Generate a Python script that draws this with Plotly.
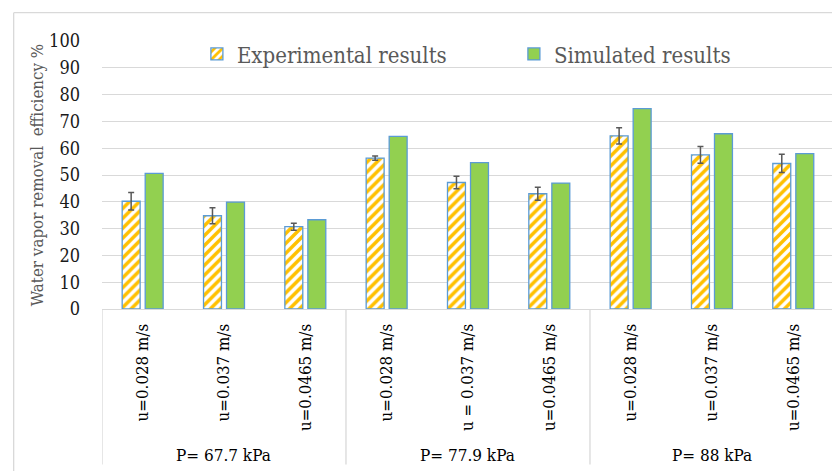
import plotly.graph_objects as go

# Operating pressures (outer grouping) and air velocities (one bar pair each)
pressures = ["P= 67.7 kPa", "P= 77.9 kPa", "P= 88 kPa"]
velocities = ["u=0.028 m/s", "u=0.037 m/s", "u=0.0465 m/s",
              "u=0.028 m/s", "u = 0.037 m/s", "u=0.0465 m/s",
              "u=0.028 m/s", "u=0.037 m/s", "u=0.0465 m/s"]
per_group = 3

# Water vapor removal efficiency, %
experimental = [40.2, 34.8, 30.7, 56.3, 47.2, 43.0, 64.6, 57.5, 54.3]
experimental_err = [3.3, 3.0, 1.3, 0.8, 2.3, 2.4, 3.0, 3.1, 3.4]
simulated = [50.6, 39.9, 33.3, 64.4, 54.6, 47.0, 74.8, 65.4, 58.0]

y_ticks = list(range(0, 101, 10))

SERIF = "DejaVu Serif Condensed"
GRID = "#D9D9D9"
EDGE = "#5B9BD5"

pos = list(range(len(velocities)))

fig = go.Figure()
fig.add_trace(go.Bar(
    name="Experimental results",
    x=pos,
    y=experimental,
    error_y=dict(type="data", array=experimental_err, color="#595959",
                 thickness=1.5, width=3),
    marker=dict(
        color="white",
        pattern=dict(shape="/", fgcolor="#FFC000", bgcolor="white",
                     fgopacity=1, size=7, solidity=0.5),
        line=dict(color=EDGE, width=1.3),
    ),
))
fig.add_trace(go.Bar(
    name="Simulated results",
    x=pos,
    y=simulated,
    marker=dict(color="#92D050", line=dict(color=EDGE, width=1.3)),
))

# Pressure group labels and the dividers of the category table
for g, label in enumerate(pressures):
    first = g * per_group
    centre = first + (per_group - 1) / 2
    fig.add_annotation(x=centre, xref="x", y=-0.545, yref="paper",
                       text=label, showarrow=False, yanchor="middle",
                       font=dict(family=SERIF, size=17, color="#000000"))
for g in range(len(pressures) + 1):
    edge = g * per_group - 0.5
    fig.add_shape(type="line", xref="x", yref="paper",
                  x0=edge, x1=edge, y0=0, y1=-0.58,
                  line=dict(color=GRID, width=1.3))

# Light frame around the chart area (top and left edges)
frame = dict(type="line", xref="paper", yref="paper",
             line=dict(color=GRID, width=1.3), layer="below")
fig.add_shape(x0=-0.121, x1=1.0, y0=1.1056, y1=1.1056, **frame)
fig.add_shape(x0=-0.121, x1=-0.121, y0=1.1056, y1=-0.62, **frame)

fig.update_layout(
    width=832,
    height=471,
    margin=dict(l=102, r=0, t=41, b=162, autoexpand=False),
    paper_bgcolor="white",
    plot_bgcolor="white",
    barmode="group",
    bargap=0.434,
    bargroupgap=0.22,
    font=dict(family=SERIF, color="#000000"),
    showlegend=True,
    legend=dict(
        orientation="h",
        x=0.13, xanchor="left",
        y=0.951, yanchor="middle",
        bgcolor="rgba(0,0,0,0)",
        font=dict(family=SERIF, size=22, color="#595959"),
        entrywidth=272,
        traceorder="normal",
    ),
    xaxis=dict(
        range=[-0.5, 8.476],
        tickvals=pos,
        ticktext=velocities,
        tickangle=-90,
        tickfont=dict(family=SERIF, size=16.8, color="#000000"),
        showline=True, linecolor=GRID, linewidth=1.3,
        ticks="",
        ticklabelstandoff=7,
        showgrid=False,
        zeroline=False,
    ),
    yaxis=dict(
        range=[0, 100],
        tickvals=y_ticks,
        tickfont=dict(family=SERIF, size=18, color="#1a1a1a"),
        showgrid=True, gridcolor=GRID, gridwidth=1.3,
        zeroline=False,
        showline=False,
        ticks="",
        ticklabelstandoff=21,
        title=dict(text="Water vapor removal\u00a0 efficiency %",
                   font=dict(family=SERIF, size=16.8, color="#595959"),
                   standoff=1),
    ),
)

fig.write_html("out.html")
